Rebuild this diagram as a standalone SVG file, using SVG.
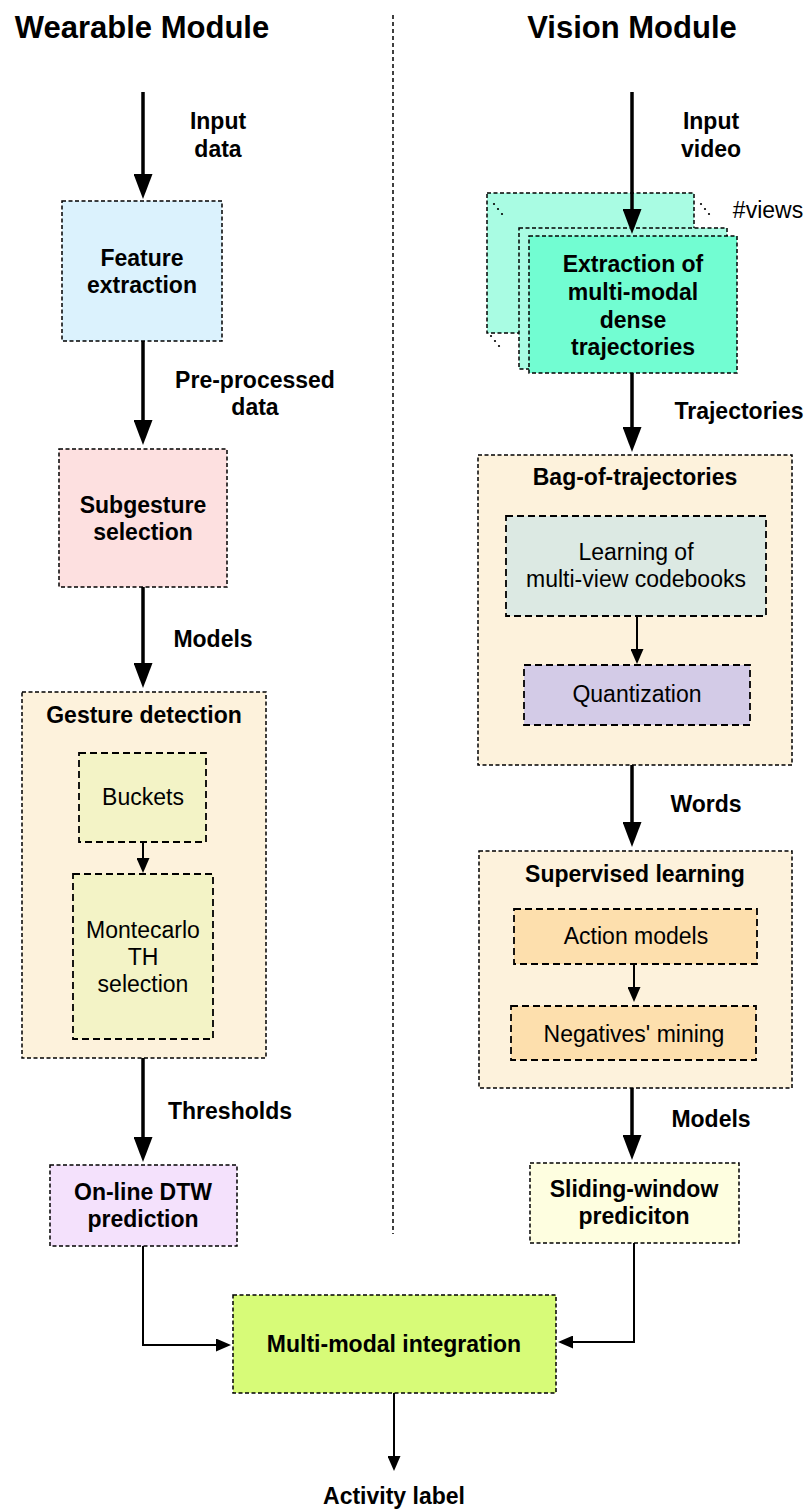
<svg xmlns="http://www.w3.org/2000/svg" width="809" height="1510" viewBox="0 0 809 1510">
<style>
text{font-family:"Liberation Sans",Arial,sans-serif;fill:#000;text-anchor:middle}
.t{font-size:31px;font-weight:bold}
.b{font-size:23px;font-weight:bold}
.r{font-size:23px}
.lbl{font-size:23px;font-weight:bold}
.ob{stroke:#000;stroke-width:1.5;stroke-dasharray:4,2.5}
.ib{stroke:#000;stroke-width:1.8;stroke-dasharray:7,4}
.thick{stroke:#000;stroke-width:3.5;fill:none}
.thin{stroke:#000;stroke-width:2;fill:none}
</style>
<defs>
<marker id="ah" markerUnits="userSpaceOnUse" viewBox="0 0 25 19" markerWidth="25" markerHeight="19" refX="15" refY="9.5" orient="auto">
<path d="M0,0 L25,9.5 L0,19 z" fill="#000"/>
</marker>
<marker id="as" markerUnits="userSpaceOnUse" viewBox="0 0 15 13" markerWidth="15" markerHeight="13" refX="10" refY="6.5" orient="auto">
<path d="M0,0 L15,6.5 L0,13 z" fill="#000"/>
</marker>
</defs>
<rect width="809" height="1510" fill="#fff"/>

<g id="titles">
<text class="t" x="142" y="38">Wearable Module</text>
<text class="t" x="632" y="38">Vision Module</text>
</g>
<line id="divider" x1="393" y1="15" x2="393" y2="1234" stroke="#000" stroke-width="1.5" stroke-dasharray="4,3"/>

<g id="feature-extraction">
<rect class="ob" x="62" y="201" width="160" height="140" fill="#dbf2fd"/>
<text class="b" x="142" y="266">Feature</text>
<text class="b" x="142" y="293">extraction</text>
</g>

<g id="subgesture-selection">
<rect class="ob" x="59" y="449" width="168" height="138" fill="#fde0e0"/>
<text class="b" x="143" y="513">Subgesture</text>
<text class="b" x="143" y="540">selection</text>
</g>

<g id="gesture-detection">
<rect class="ob" x="22" y="692" width="244" height="366" fill="#fdf2dc"/>
<text class="b" x="144" y="723">Gesture detection</text>
</g>
<g id="buckets">
<rect class="ib" x="79" y="753" width="127" height="89" fill="#f3f3c6"/>
<text class="r" x="143" y="805">Buckets</text>
</g>
<g id="montecarlo">
<rect class="ib" x="73" y="874" width="140" height="165" fill="#f3f3c6"/>
<text class="r" x="143" y="938">Montecarlo</text>
<text class="r" x="143" y="965">TH</text>
<text class="r" x="143" y="992">selection</text>
</g>

<g id="online-dtw">
<rect class="ob" x="50" y="1165" width="187" height="81" fill="#f4e1fc"/>
<text class="b" x="143" y="1200">On-line DTW</text>
<text class="b" x="143" y="1227">prediction</text>
</g>

<g id="extraction-trajectories">
<rect class="ob" x="487" y="193" width="207" height="140" fill="#a9fce3"/>
<rect class="ob" x="519" y="228" width="208" height="141" fill="#a9fce3"/>
<rect class="ob" x="529" y="236" width="208" height="137" fill="#72fdd2"/>
<g fill="#000">
<circle cx="494" cy="204" r="1.1"/><circle cx="498" cy="209" r="1.1"/><circle cx="502" cy="214" r="1.1"/>
<circle cx="701" cy="204" r="1.1"/><circle cx="705" cy="209" r="1.1"/><circle cx="709" cy="214" r="1.1"/>
<circle cx="491" cy="336" r="1.1"/><circle cx="495" cy="341" r="1.1"/><circle cx="499" cy="346" r="1.1"/>
</g>
<text class="r" x="768" y="218">#views</text>
<text class="b" x="633" y="272">Extraction of</text>
<text class="b" x="633" y="300">multi-modal</text>
<text class="b" x="633" y="328">dense</text>
<text class="b" x="633" y="355">trajectories</text>
</g>

<g id="bag-of-trajectories">
<rect class="ob" x="478" y="455" width="314" height="310" fill="#fdf2dc"/>
<text class="b" x="635" y="485">Bag-of-trajectories</text>
</g>
<g id="learning-codebooks">
<rect class="ib" x="506" y="516" width="260" height="100" fill="#dce9e3"/>
<text class="r" x="636" y="560">Learning of</text>
<text class="r" x="636" y="587">multi-view codebooks</text>
</g>
<g id="quantization">
<rect class="ib" x="524" y="665" width="226" height="60" fill="#d3cbe7"/>
<text class="r" x="637" y="702">Quantization</text>
</g>

<g id="supervised-learning">
<rect class="ob" x="479" y="851" width="313" height="237" fill="#fdf2dc"/>
<text class="b" x="635" y="882">Supervised learning</text>
</g>
<g id="action-models">
<rect class="ib" x="514" y="909" width="243" height="55" fill="#fddfad"/>
<text class="r" x="636" y="944">Action models</text>
</g>
<g id="negatives-mining">
<rect class="ib" x="511" y="1006" width="245" height="54" fill="#fddfad"/>
<text class="r" x="634" y="1042">Negatives' mining</text>
</g>

<g id="sliding-window">
<rect class="ob" x="530" y="1163" width="209" height="80" fill="#fefee0"/>
<text class="b" x="634" y="1197">Sliding-window</text>
<text class="b" x="634" y="1224">prediciton</text>
</g>

<g id="multimodal-integration">
<rect class="ob" x="233" y="1295" width="323" height="98" fill="#d7fb78"/>
<text class="b" x="394" y="1352">Multi-modal integration</text>
</g>

<g id="connectors">
<line class="thick" x1="143" y1="92" x2="143" y2="189" marker-end="url(#ah)"/>
<line class="thick" x1="143" y1="341" x2="143" y2="435" marker-end="url(#ah)"/>
<line class="thick" x1="143" y1="587" x2="143" y2="678" marker-end="url(#ah)"/>
<line class="thick" x1="143" y1="1058" x2="143" y2="1152" marker-end="url(#ah)"/>
<line class="thick" x1="632" y1="92" x2="632" y2="224" marker-end="url(#ah)"/>
<line class="thick" x1="632" y1="373" x2="632" y2="442" marker-end="url(#ah)"/>
<line class="thick" x1="632" y1="765" x2="632" y2="837" marker-end="url(#ah)"/>
<line class="thick" x1="632" y1="1088" x2="632" y2="1150" marker-end="url(#ah)"/>
<line class="thin" x1="143" y1="842" x2="143" y2="868" marker-end="url(#as)"/>
<line class="thin" x1="637" y1="616" x2="637" y2="659" marker-end="url(#as)"/>
<line class="thin" x1="634" y1="964" x2="634" y2="997" marker-end="url(#as)"/>
<path class="thin" d="M143,1246 V1345 H226" marker-end="url(#as)"/>
<path class="thin" d="M634,1243 V1342 H563" marker-end="url(#as)"/>
<line class="thin" x1="394" y1="1393" x2="394" y2="1466" marker-end="url(#as)"/>
</g>

<g id="edge-labels">
<text class="lbl" x="218" y="129">Input</text>
<text class="lbl" x="218" y="157">data</text>
<text class="lbl" x="255" y="388">Pre-processed</text>
<text class="lbl" x="255" y="415">data</text>
<text class="lbl" x="213" y="647">Models</text>
<text class="lbl" x="230" y="1119">Thresholds</text>
<text class="lbl" x="711" y="129">Input</text>
<text class="lbl" x="711" y="157">video</text>
<text class="lbl" x="739" y="419">Trajectories</text>
<text class="lbl" x="706" y="812">Words</text>
<text class="lbl" x="711" y="1127">Models</text>
<text class="lbl" x="394" y="1504">Activity label</text>
</g>
</svg>
